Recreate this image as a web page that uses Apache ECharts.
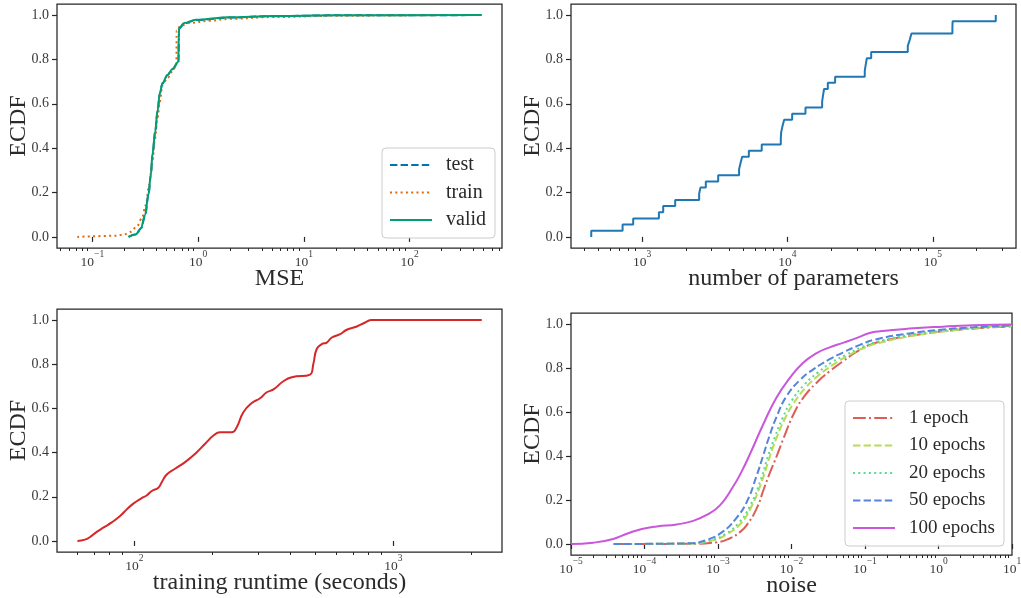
<!DOCTYPE html>
<html><head><meta charset="utf-8">
<script src="https://cdn.jsdelivr.net/npm/echarts@6/dist/echarts.min.js"></script>
<style>html,body{margin:0;padding:0;background:#fff}#c{width:1021px;height:598px}</style>
</head><body><div id="c"></div>
<script>
// ---------- tick labels ----------
const ecdfTicks = [0, 0.2, 0.4, 0.6, 0.8, 1.0];
const mseTicks = [0.1, 1, 10, 100];
const paramTicks = [1e3, 1e4, 1e5];
const runtimeTicks = [100, 1000];
const noiseTicks = [1e-5, 1e-4, 1e-3, 1e-2, 1e-1, 1, 10];

// ---------- panel 1: MSE ECDF (x = MSE, y = ECDF) ----------
const mseTest = [[0.22,0],[0.26,0.012],[0.29,0.04],[0.316,0.1],[0.339,0.19],[0.357,0.28],[0.37,0.37],[0.393,0.475],[0.413,0.566],[0.435,0.648],[0.46,0.692],[0.513,0.729],[0.572,0.756],[0.652,0.789],[0.656,0.9],[0.662,0.94],[0.74,0.963],[0.96,0.978],[2.0,0.989],[5,0.995],[20,0.999],[470,1.0]];
const mseTrain = [[0.072,0],[0.166,0.005],[0.1995,0.011],[0.2305,0.023],[0.266,0.05],[0.293,0.083],[0.32,0.143],[0.3435,0.234],[0.369,0.339],[0.3915,0.444],[0.412,0.535],[0.434,0.61],[0.459,0.685],[0.512,0.715],[0.571,0.745],[0.623,0.776],[0.626,0.93],[0.686,0.953],[0.822,0.964],[1.27,0.974],[1.97,0.983],[5,0.991],[20,0.997],[190,1.0]];
const mseValid = [[0.219,0],[0.257,0.011],[0.287,0.038],[0.315,0.098],[0.338,0.188],[0.357,0.279],[0.369,0.369],[0.392,0.474],[0.412,0.565],[0.434,0.648],[0.459,0.693],[0.512,0.73],[0.571,0.757],[0.651,0.79],[0.655,0.9],[0.661,0.941],[0.737,0.964],[0.951,0.979],[1.97,0.99],[5,0.996],[20,0.999],[480,1.0]];

// ---------- panel 2: number of parameters (raw samples) ----------
const paramCounts = [446,733,867,1303,1395,1687,2466,2518,2741,3335,4645,4754,4875,5420,6650,8995,9050,9245,9490,10770,13300,17320,17580,17860,18950,21280,34040,34590,35170,37680,67300,69450,71330,136500,137000,271400];

// ---------- panel 3: training runtime ECDF ----------
const runtimeCdf = [[60.3,0],[64.5,0.006],[67.5,0.018],[71.6,0.041],[75.9,0.06],[81.8,0.084],[88.1,0.113],[93.5,0.143],[99.1,0.169],[106.8,0.194],[111.6,0.206],[116.8,0.226],[123.8,0.241],[127.6,0.266],[133.4,0.301],[143.6,0.327],[157,0.357],[174.2,0.402],[187.6,0.44],[202,0.477],[214.3,0.492],[237.7,0.492],[248.5,0.515],[263.6,0.583],[284,0.624],[305.7,0.646],[324.5,0.673],[344.4,0.686],[376,0.723],[405.3,0.741],[476.6,0.753],[490.8,0.801],[505.8,0.869],[529,0.891],[553,0.898],[578.6,0.921],[622.7,0.936],[660.6,0.956],[722.3,0.971],[778,0.989],[825,1.0],[2193,1.0]];

// ---------- panel 4: noise ECDF per epoch count ----------
const noise1 = [[3.9e-5,0],[4e-4,0.001],[9.6e-4,0.008],[1.46e-3,0.026],[2e-3,0.055],[2.46e-3,0.086],[3.36e-3,0.162],[4.2e-3,0.25],[5.1e-3,0.325],[6.3e-3,0.4],[8e-3,0.49],[1.05e-2,0.585],[1.44e-2,0.664],[2.18e-2,0.732],[3.3e-2,0.785],[5e-2,0.83],[7.6e-2,0.873],[0.116,0.905],[0.24,0.933],[0.68,0.957],[2,0.975],[10,0.989]];
const noise10 = [[3.8e-5,0],[4e-4,0.002],[8.5e-4,0.017],[1.3e-3,0.043],[2e-3,0.09],[2.8e-3,0.165],[3.9e-3,0.28],[5.1e-3,0.4],[6.3e-3,0.485],[8e-3,0.565],[1.07e-2,0.64],[1.6e-2,0.715],[2.4e-2,0.77],[3.7e-2,0.815],[5.8e-2,0.855],[9.5e-2,0.89],[0.16,0.915],[0.42,0.945],[1.15,0.966],[3,0.98],[10,0.992]];
const noise20 = [[3.8e-5,0],[4e-4,0.002],[8e-4,0.018],[1.25e-3,0.045],[1.9e-3,0.095],[2.7e-3,0.17],[3.8e-3,0.29],[4.8e-3,0.4],[6e-3,0.49],[7.5e-3,0.57],[1e-2,0.65],[1.5e-2,0.725],[2.3e-2,0.78],[3.5e-2,0.825],[5.5e-2,0.86],[9e-2,0.895],[0.15,0.92],[0.4,0.95],[1.15,0.97],[3,0.982],[10,0.993]];
const noise50 = [[3.8e-5,0],[4e-4,0.003],[7.5e-4,0.022],[1.15e-3,0.055],[1.7e-3,0.11],[2.45e-3,0.19],[3.35e-3,0.31],[4.1e-3,0.4],[5e-3,0.49],[6.3e-3,0.58],[8.5e-3,0.67],[1.3e-2,0.745],[2e-2,0.795],[3.3e-2,0.84],[5e-2,0.87],[8.5e-2,0.905],[0.14,0.93],[0.4,0.957],[1.15,0.975],[3,0.985],[10,0.994]];
const noise100 = [[1e-5,0],[2e-5,0.006],[3.76e-5,0.023],[6e-5,0.049],[9.2e-5,0.068],[1.47e-4,0.08],[2.74e-4,0.089],[4.6e-4,0.105],[7e-4,0.132],[1.07e-3,0.177],[1.6e-3,0.26],[2.1e-3,0.33],[2.7e-3,0.406],[4.1e-3,0.542],[6.2e-3,0.664],[9.5e-3,0.755],[1.43e-2,0.823],[2.2e-2,0.868],[3.3e-2,0.894],[5e-2,0.914],[7.6e-2,0.936],[0.116,0.959],[0.16,0.967],[0.4,0.979],[1.15,0.988],[3,0.994],[10,0.998]];

// ---------- helpers ----------
const F = '"Liberation Serif", "DejaVu Serif", serif';
const LINE = '#262626';
const TXT = '#3a3a3a';

function minorTicks(lo, hi) {
  const out = [];
  for (let e = Math.floor(Math.log10(lo)); e <= Math.ceil(Math.log10(hi)); e++) {
    for (let k = 2; k <= 9; k++) {
      const v = k * Math.pow(10, e);
      if (v >= lo && v <= hi) out.push(v);
    }
  }
  return out;
}
function pow10Label(v) {
  const e = Math.round(Math.log10(v));
  return '{b|10}{s|' + (e < 0 ? '\u2212' + (-e) : e) + '}';
}
function ecdfFromSamples(samples) {
  const s = samples.slice().sort((a, b) => a - b);
  const n = s.length;
  return [[s[0], 0]].concat(s.map((v, i) => [v, (i + 1) / n]));
}

const grids = [
  {left: 57, top: 4, width: 445, height: 244},
  {left: 571, top: 4, width: 445, height: 244},
  {left: 57, top: 309, width: 445, height: 243},
  {left: 571, top: 313, width: 441, height: 242}
].map(g => Object.assign(g, {show: true, borderColor: LINE, borderWidth: 1.25, backgroundColor: 'transparent', containLabel: false, outerBoundsMode: 'none'}));

const xDefs = [
  {min: 0.0463, max: 745, ticks: mseTicks, name: 'MSE'},
  {min: 323.6, max: 374000, ticks: paramTicks, name: 'number of parameters'},
  {min: 50.3, max: 2625, ticks: runtimeTicks, name: 'training runtime (seconds)'},
  {min: 1e-5, max: 10, ticks: noiseTicks, name: 'noise'}
];

const xAxes = [];
xDefs.forEach((d, g) => {
  xAxes.push({
    type: 'log', logBase: 10, gridIndex: g, min: d.min, max: d.max, position: 'bottom',
    name: d.name, nameLocation: 'middle', nameGap: 19, nameMoveOverlap: false,
    nameTextStyle: {fontFamily: F, fontSize: 24, color: '#2a2a2a'},
    axisLine: {show: false}, splitLine: {show: false}, minorTick: {show: false},
    axisTick: {show: true, customValues: d.ticks, length: 5, lineStyle: {color: LINE, width: 1.2}},
    axisLabel: {customValues: d.ticks, formatter: pow10Label, margin: 1,
      rich: {
        b: {fontFamily: F, fontSize: 13.5, color: TXT, lineHeight: 20, verticalAlign: 'bottom'},
        s: {fontFamily: F, fontSize: 9.5, color: TXT, lineHeight: 10, verticalAlign: 'top'}
      }}
  });
  xAxes.push({
    type: 'log', logBase: 10, gridIndex: g, min: d.min, max: d.max, position: 'bottom', offset: 0,
    axisLine: {show: false}, splitLine: {show: false}, axisLabel: {show: false},
    axisTick: {show: true, customValues: minorTicks(d.min, d.max), length: 3, lineStyle: {color: LINE, width: 1}}
  });
});

const yAxes = grids.map((g, i) => ({
  type: 'value', gridIndex: i, min: -0.05, max: 1.05,
  name: 'ECDF', nameLocation: 'middle', nameGap: 26, nameRotate: 90, nameMoveOverlap: false,
  nameTextStyle: {fontFamily: F, fontSize: 24, color: '#2a2a2a'},
  axisLine: {show: false}, splitLine: {show: false},
  axisTick: {show: true, customValues: ecdfTicks, length: 5, lineStyle: {color: LINE, width: 1.2}},
  axisLabel: {customValues: ecdfTicks, formatter: v => v.toFixed(1), margin: 8,
    fontFamily: F, fontSize: 14, color: TXT}
}));

function line(name, data, g, color, type, extra) {
  return Object.assign({
    name, type: 'line', data, xAxisIndex: 2 * g, yAxisIndex: g,
    symbol: 'none', showSymbol: false, smooth: 0.5,
    lineStyle: {color, width: 2, type: type || 'solid'},
    itemStyle: {color}, emphasis: {disabled: true}, z: 3
  }, extra || {});
}

const DASH = [7.4, 3.2], DOT = [2, 3.3], DASHDOT = [12.8, 3.2, 2, 3.2];

const series = [
  line('test', mseTest, 0, '#0173b2', DASH, {smooth: 0.35, smoothMonotone: 'x'}),
  line('train', mseTrain, 0, '#de6a10', DOT, {smooth: 0.35, smoothMonotone: 'x'}),
  line('valid', mseValid, 0, '#029e73', 'solid', {smooth: 0.35, smoothMonotone: 'x'}),
  line('params', ecdfFromSamples(paramCounts), 1, '#1f77b4', 'solid', {smooth: false, step: 'end'}),
  line('runtime', runtimeCdf, 2, '#d62728', 'solid'),
  line('1 epoch', noise1, 3, '#db5f57', DASHDOT),
  line('10 epochs', noise10, 3, '#b9db57', DASH),
  line('20 epochs', noise20, 3, '#57db94', DOT),
  line('50 epochs', noise50, 3, '#5784db', DASH),
  line('100 epochs', noise100, 3, '#c957db', 'solid')
];

const legendBase = {
  orient: 'vertical', itemWidth: 42, itemHeight: 14, itemGap: 7.5,
  backgroundColor: 'rgba(255,255,255,0.85)', borderColor: '#cccccc', borderWidth: 1, borderRadius: 4,
  padding: [7, 9, 8, 7], selectedMode: false,
  lineStyle: {width: 2},
  itemStyle: {color: 'rgba(0,0,0,0)', borderColor: 'rgba(0,0,0,0)', borderWidth: 0},
  textStyle: {fontFamily: F, fontSize: 20, color: '#2a2a2a', lineHeight: 20, padding: [0, 0, 0, 9]}
};

const option = {
  animation: false,
  backgroundColor: '#ffffff',
  grid: grids,
  xAxis: xAxes,
  yAxis: yAxes,
  legend: [
    Object.assign({}, legendBase, {data: ['test', 'train', 'valid'], left: 382, top: 148}),
    Object.assign({}, legendBase, {data: ['1 epoch', '10 epochs', '20 epochs', '50 epochs', '100 epochs'], left: 845, top: 401, textStyle: Object.assign({}, legendBase.textStyle, {fontSize: 19})})
  ],
  series
};

const chart = echarts.init(document.getElementById('c'), null, {renderer: 'canvas'});
chart.setOption(option);
</script>
</body></html>
